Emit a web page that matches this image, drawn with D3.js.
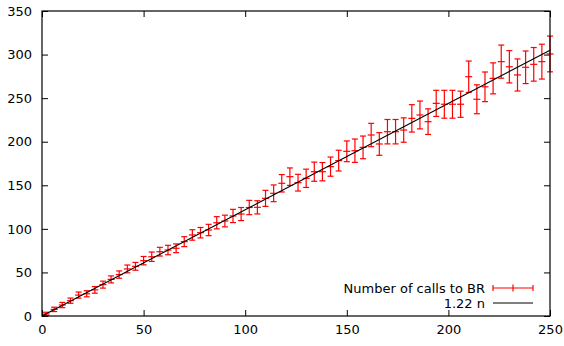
<!DOCTYPE html>
<html>
<head>
<meta charset="utf-8">
<script src="https://cdn.jsdelivr.net/npm/d3@7"></script>
<style>
  body { margin: 0; background: #fff; }
  text { font-family: "DejaVu Sans", sans-serif; font-size: 13px; fill: #000; }
</style>
</head>
<body>
<svg width="564" height="346"></svg>
<script>
// problem size n
let nValues = [2, 6, 10, 14, 18, 22, 26, 30, 34, 38, 42, 46, 50, 54, 58, 62,
    66, 70, 74, 78, 82, 86, 90, 94, 98, 102, 106, 110, 114, 118, 122, 126,
    130, 134, 138, 142, 146, 150, 154, 158, 162, 166, 170, 174, 178, 182, 186,
    190, 194, 198, 202, 206, 210, 214, 218, 222, 226, 230, 234, 238, 242, 246, 250];
// mean number of calls to BR
let calls = [2.3, 7.6, 12.6, 17.6, 24, 25.5, 30, 36, 42, 47.5, 54, 57, 63.5, 68,
    73.8, 75.7, 77.7, 85.3, 93, 95.6, 98.7, 107, 109, 114.8, 117, 124.5, 124.7,
    135, 140.8, 152.3, 159.9, 153, 158, 165.6, 165.6, 171.4, 178.3, 189, 189.7,
    193.5, 207.7, 197.4, 211.5, 211.5, 213.4, 226.8, 230.7, 223, 244, 243, 243,
    243, 274.6, 248.7, 263, 272.7, 291.9, 286, 276.6, 285.4, 288.8, 291.9, 300.7];
// half width of the error bars
let errors = [2, 2.5, 3, 3, 3.5, 3.5, 3.8, 4, 4, 4.2, 4.5, 4.5, 4.8, 5.4, 5, 5.4,
    5, 5.7, 6, 6, 6.5, 7, 6.7, 7.6, 7.5, 8.2, 7.6, 9.2, 9.6, 10, 10, 9.6, 10.5,
    11, 10.5, 11, 11.9, 11.9, 13.4, 13, 13.4, 13, 14, 14, 14, 15.7, 16, 14.7, 15,
    16, 16, 15, 18, 16.6, 17, 17.8, 19, 18.5, 18.4, 18.7, 19.3, 20, 20.5];
let slope = 1.22;
let xTicks = [0, 50, 100, 150, 200, 250];
let yTicks = [0, 50, 100, 150, 200, 250, 300, 350];
let seriesNames = ["Number of calls to BR", "1.22 n"];

let svg = d3.select("svg");
let margin = {top: 11, right: 14, bottom: 30, left: 42};
let width = +svg.attr("width") - margin.left - margin.right;
let height = +svg.attr("height") - margin.top - margin.bottom;

let x = d3.scaleLinear().domain([0, 250]).range([0, width]);
let y = d3.scaleLinear().domain([0, 350]).range([height, 0]);

let g = svg.append("g")
    .attr("transform", "translate(" + margin.left + "," + margin.top + ")");

let tick = 6;

// axes: gnuplot style, inward ticks mirrored on all sides
g.append("g")
    .attr("transform", "translate(0," + height + ")")
    .call(d3.axisBottom(x).tickValues(xTicks).tickSize(-tick).tickPadding(9))
    .call(a => a.select(".domain").remove());
g.append("g")
    .call(d3.axisTop(x).tickValues(xTicks).tickSize(-tick).tickFormat(""))
    .call(a => a.select(".domain").remove());
g.append("g")
    .call(d3.axisLeft(y).tickValues(yTicks).tickSize(-tick).tickPadding(10))
    .call(a => a.select(".domain").remove());
g.append("g")
    .attr("transform", "translate(" + width + ",0)")
    .call(d3.axisRight(y).tickValues(yTicks).tickSize(-tick).tickFormat(""))
    .call(a => a.select(".domain").remove());

g.selectAll(".tick text").style("font-size", "13px").attr("font-family", null);
g.selectAll(".tick line").attr("stroke", "#000");

let red = "#ff0000";
let cap = 3;
let mark = 3.5;

let pts = nValues.map((n, i) => ({n: n, v: calls[i], e: errors[i]}));

let bars = g.append("g").attr("stroke", red).attr("stroke-width", 1.2);
let pt = bars.selectAll("g").data(pts).enter().append("g");
pt.append("line")
    .attr("x1", d => x(d.n)).attr("x2", d => x(d.n))
    .attr("y1", d => y(d.v - d.e)).attr("y2", d => y(d.v + d.e));
pt.append("line")
    .attr("x1", d => x(d.n) - cap).attr("x2", d => x(d.n) + cap)
    .attr("y1", d => y(d.v - d.e)).attr("y2", d => y(d.v - d.e));
pt.append("line")
    .attr("x1", d => x(d.n) - cap).attr("x2", d => x(d.n) + cap)
    .attr("y1", d => y(d.v + d.e)).attr("y2", d => y(d.v + d.e));
pt.append("line")
    .attr("x1", d => x(d.n) - mark).attr("x2", d => x(d.n) + mark)
    .attr("y1", d => y(d.v)).attr("y2", d => y(d.v));

// fit line
g.append("line")
    .attr("x1", x(0)).attr("y1", y(0))
    .attr("x2", x(250)).attr("y2", y(slope * 250))
    .attr("stroke", "#000").attr("stroke-width", 1.1);

// border
g.append("rect")
    .attr("width", width).attr("height", height)
    .attr("fill", "none").attr("stroke", "#000").attr("stroke-width", 1.2);

// key
let key = svg.append("g").attr("transform", "translate(485,288)");
key.append("text").attr("x", 0).attr("y", 0).attr("dy", "0.35em")
    .attr("text-anchor", "end").text(seriesNames[0]);
key.append("text").attr("x", 0).attr("y", 15).attr("dy", "0.35em")
    .attr("text-anchor", "end").text(seriesNames[1]);
let ks = key.append("g").attr("stroke", red).attr("stroke-width", 1.2);
ks.append("line").attr("x1", 8).attr("x2", 48).attr("y1", 0).attr("y2", 0);
ks.append("line").attr("x1", 8).attr("x2", 8).attr("y1", -cap).attr("y2", cap);
ks.append("line").attr("x1", 48).attr("x2", 48).attr("y1", -cap).attr("y2", cap);
ks.append("line").attr("x1", 28).attr("x2", 28).attr("y1", -mark).attr("y2", mark);
key.append("line").attr("x1", 8).attr("x2", 48).attr("y1", 15).attr("y2", 15)
    .attr("stroke", "#000").attr("stroke-width", 1.1);
</script>
</body>
</html>
